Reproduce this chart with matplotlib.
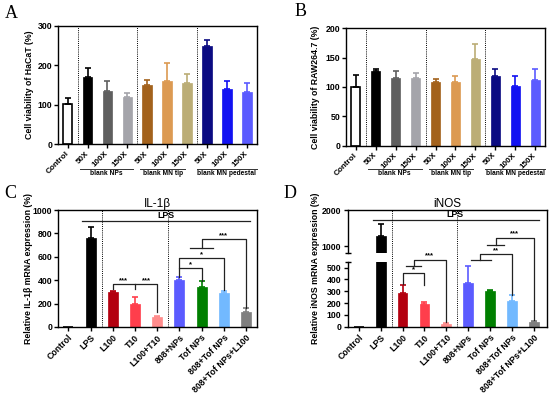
import matplotlib
matplotlib.use("Agg")
import matplotlib.pyplot as plt
from matplotlib.transforms import blended_transform_factory

plt.rcParams['font.family'] = ['Liberation Sans', 'DejaVu Sans']
plt.rcParams['font.weight'] = 'bold'

# ---------------- data ----------------
ab_labels = ['Control', '50X', '100X', '150X', '50X', '100X', '150X', '50X', '100X', '150X']
ab_groups = ['blank NPs', 'blank MN tip', 'blank MN pedestal']
a_vals = [101, 171, 135, 120, 150, 161, 155, 248, 139, 132]
a_err = [15, 22, 25, 9, 13, 44, 22, 17, 22, 23]
b_vals = [100, 127, 115, 115, 108, 109, 148, 118, 102, 112]
b_err = [20, 3, 12, 9, 6, 9, 25, 12, 16, 19]
ab_colors = ['white', '#000000', '#5f5f5f', '#a4a4aa', '#a3621c', '#dc9a52', '#bbad76',
             '#0b0b82', '#1212f2', '#5b5bff']

cd_labels = ['Control', 'LPS', 'L100', 'T10', 'L100+T10', '808+NPs', 'Tof NPs',
             '808+Tof NPs', '808+Tof NPs+L100']
c_vals = [0, 763, 296, 194, 85, 399, 345, 288, 128]
c_err = [0, 95, 12, 65, 12, 31, 51, 22, 32]
d_vals = [0, 1287, 281, 194, 25, 371, 298, 216, 39]
d_err = [0, 324, 76, 11, 5, 143, 11, 51, 9]
cd_colors = ['white', '#000000', '#b3000f', '#ff3e4c', '#ff8c8c', '#5b5bff', '#007f00',
             '#72b9ff', '#7f7f7f']

W, H = 550, 396
fig = plt.figure(figsize=(W / 100, H / 100), dpi=100)


def px_axes(l, t, r, b):
    return fig.add_axes([l / W, 1 - b / H, (r - l) / W, (b - t) / H])


TICK_FS = 6.3
LW = 1.0


def style(ax):
    for s in ax.spines.values():
        s.set_linewidth(LW)
    ax.tick_params(axis='both', direction='out', length=3, width=LW, labelsize=TICK_FS, pad=1.5)
    for lab in ax.get_yticklabels():
        lab.set_fontweight('bold')


def bars(ax, vals, errs, colors, width):
    xs = list(range(len(vals)))
    for x, v, e, c in zip(xs, vals, errs, colors):
        edge = 'black' if c == 'white' else c
        ax.bar(x, v, width=width, color=c, edgecolor=edge, linewidth=1.2 if c == 'white' else 0.5, zorder=2)
        if e > 0:
            ax.errorbar(x, v, yerr=[[0], [e]], fmt='none', ecolor=edge, elinewidth=1.2,
                        capsize=2, capthick=1.2, zorder=3)
    ax.set_xticks(xs)


def dotted(ax, xs):
    for x in xs:
        ax.axvline(x, color='black', lw=0.7, ls=(0, (1, 1.2)), zorder=1)


def xlabels(ax, labels, fs=TICK_FS, va='top'):
    ax.set_xticklabels(labels, rotation=45, ha='right', va=va, rotation_mode='anchor',
                       fontsize=fs, fontweight='bold')


# ---------------- Panel A & B ----------------
group_spans = [(0.6, 3.3), (3.65, 5.9), (6.5, 9.5)]


def panel_ab(ax, vals, errs, ylim, yticks, ylabel, ylab_x):
    bars(ax, vals, errs, ab_colors, 0.48)
    ax.set_xlim(-0.47, 9.5)
    ax.set_ylim(*ylim)
    ax.set_yticks(yticks)
    style(ax)
    ax.tick_params(axis='x', pad=3)
    xlabels(ax, ab_labels, 5.9, va='center')
    dotted(ax, [0.5, 3.5, 6.5])
    tr = blended_transform_factory(ax.transData, fig.transFigure)
    for (x0, x1), g in zip(group_spans, ab_groups):
        ax.plot([x0, x1], [1 - 168.8 / H] * 2, transform=tr, color='#333333', lw=0.7, clip_on=False)
        ax.text((x0 + x1) / 2, 1 - 173.5 / H, g, transform=tr, ha='center', va='center',
                fontsize=4.8, fontweight='bold')
    pos = ax.get_position()
    fig.text(ylab_x / W, (pos.y0 + pos.y1) / 2, ylabel, rotation=90, ha='center', va='center',
             fontsize=6.3, fontweight='bold')


axA = px_axes(58.3, 25.7, 256.7, 144)
panel_ab(axA, a_vals, a_err, (0, 300), [0, 100, 200, 300], 'Cell viability of HaCaT (%)', 30)
axB = px_axes(346.3, 28.3, 545.3, 145.7)
panel_ab(axB, b_vals, b_err, (0, 200), [0, 50, 100, 150, 200], 'Cell viability of RAW264.7 (%)', 315)


def seg(ax, xs, ys, **kw):
    ax.plot(xs, ys, color='#222222', lw=0.9, clip_on=False, zorder=4, **kw)


def star(ax, x, y, s):
    ax.text(x, y, s, ha='center', va='bottom', fontsize=5.5, fontweight='bold', clip_on=False, zorder=4)


# ---------------- Panel C ----------------
axC = px_axes(58.3, 210, 256.7, 327)
bars(axC, c_vals, c_err, cd_colors, 0.45)
axC.set_xlim(-0.45, 8.48)
axC.set_ylim(0, 1000)
axC.set_yticks([0, 200, 400, 600, 800, 1000])
style(axC)
xlabels(axC, cd_labels)
dotted(axC, [1.5, 4.5])
axC.set_title('IL-1β', fontsize=8.5, fontweight='normal', pad=2)
seg(axC, [0.6, 8.18], [906, 906])
axC.text(4.4, 915, 'LPS', ha='center', va='bottom', fontsize=6.3, fontweight='bold')
# L100 / T10 / L100+T10
seg(axC, [2, 2, 4, 4], [325, 365, 365, 130])
seg(axC, [3, 3], [365, 325])
star(axC, 2.5, 362, '***')
star(axC, 3.5, 362, '***')
# 808 group
seg(axC, [5, 5, 6, 6], [430, 507, 507, 396])
star(axC, 5.5, 505, '*')
seg(axC, [5, 5, 7, 7], [507, 587, 587, 312])
star(axC, 6.0, 585, '*')
seg(axC, [5.5, 6.5], [673, 673])
seg(axC, [6, 6, 8, 8], [673, 752, 752, 162])
star(axC, 7.0, 750, '***')
posC = axC.get_position()
fig.text(28.5 / W, (posC.y0 + posC.y1) / 2, 'Relative IL-1β mRNA expression (%)', rotation=90,
         ha='center', va='center', fontsize=6.3, fontweight='bold')

# ---------------- Panel D (broken axis) ----------------
axDu = px_axes(347.7, 210, 547.3, 252.5)
axDl = px_axes(347.7, 261.7, 547.3, 326.7)
for ax in (axDu, axDl):
    bars(ax, d_vals, d_err, cd_colors, 0.45)
    ax.set_xlim(-0.5, 8.6)
    style(ax)
    ax.patch.set_visible(False)
axDu.set_ylim(820, 2000)
axDu.set_yticks([1000, 2000])
axDl.set_ylim(0, 550)
axDl.set_yticks([0, 100, 200, 300, 400, 500])
axDu.spines['bottom'].set_visible(False)
axDu.spines['right'].set_visible(False)
axDl.spines['top'].set_visible(False)
axDl.spines['right'].set_visible(False)
axDu.tick_params(axis='x', which='both', bottom=False, labelbottom=False)
xlabels(axDl, cd_labels)
for ax in (axDu, axDl):
    for lab in ax.get_yticklabels():
        lab.set_fontweight('bold')
# continuous right frame and dotted lines
right_x = 547.3 / W
fig.add_artist(plt.Line2D([right_x - 0.5 / W, right_x - 0.5 / W], [1 - 326.7 / H, 1 - 210 / H],
                          color='black', lw=LW))
trD = blended_transform_factory(axDl.transData, fig.transFigure)
for x in [1.5, 4.5]:
    axDl.plot([x, x], [1 - 326.7 / H, 1 - 210 / H], transform=trD, color='black', lw=0.7,
              ls=(0, (1, 1.2)), clip_on=False, zorder=1)
# break caps
axDu.plot([0], [0], marker='_', ms=5, mew=LW, color='black', transform=axDu.transAxes, clip_on=False)
axDl.plot([0], [1], marker='_', ms=5, mew=LW, color='black', transform=axDl.transAxes, clip_on=False)
axDu.set_title('iNOS', fontsize=8.5, fontweight='normal', pad=2)
seg(axDu, [0.64, 8.2], [1714, 1714])
axDu.text(4.4, 1740, 'LPS', ha='center', va='bottom', fontsize=6.3, fontweight='bold')
# brackets in lower axis coordinates
seg(axDl, [2, 2, 3, 3], [365, 452, 452, 355])
star(axDl, 2.5, 455, '*')
seg(axDl, [2.15, 2.85], [516, 516])
seg(axDl, [2.5, 2.5, 4, 4], [516, 563, 563, 42])
star(axDl, 3.25, 567, '***')
seg(axDl, [5.1, 6.05], [564, 564])
seg(axDl, [5.55, 5.55, 7, 7], [564, 612, 612, 268])
star(axDl, 6.25, 615, '**')
seg(axDl, [5.86, 6.62], [691, 691])
seg(axDl, [6.24, 6.24, 8, 8], [691, 753, 753, 57])
star(axDl, 7.12, 756, '***')
fig.text(315 / W, 1 - 268.5 / H, 'Relative iNOS mRNA expression (%)', rotation=90,
         ha='center', va='center', fontsize=6.3, fontweight='bold')

# panel letters
for lt, (x, y) in zip('ABCD', [(11.5, 14), (301, 12), (10, 194), (290, 194)]):
    fig.text(x / W, 1 - y / H, lt, ha='center', va='center', fontsize=13,
             family=['Liberation Serif', 'DejaVu Serif'], fontweight='normal')

fig.savefig('out.png', dpi=100)
